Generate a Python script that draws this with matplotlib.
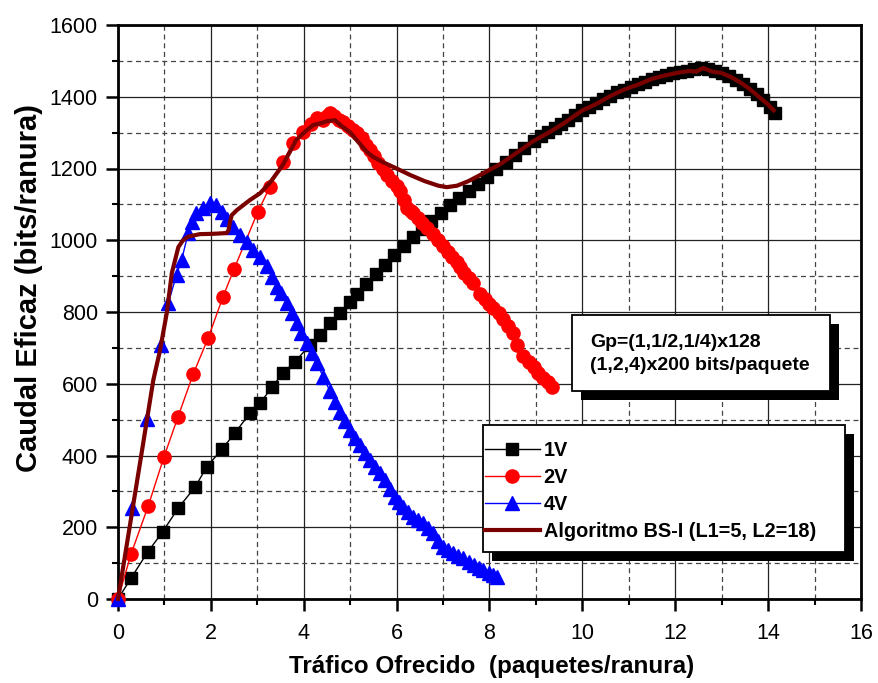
import matplotlib
matplotlib.use("Agg")
import matplotlib.pyplot as plt
from matplotlib.patches import Rectangle
from matplotlib.ticker import MultipleLocator
from matplotlib.transforms import IdentityTransform

plt.rcParams['font.family'] = ['Liberation Sans', 'DejaVu Sans']

# 1V
x_1v = [0, 0.28, 0.64, 0.96, 1.30, 1.66, 1.91, 2.24, 2.52, 2.84,
        3.06, 3.32, 3.55, 3.81, 4.13, 4.35, 4.57, 4.78, 5.00, 5.15,
        5.35, 5.55, 5.75, 5.95, 6.15, 6.35, 6.55, 6.75, 6.95, 7.15,
        7.35, 7.55, 7.75, 7.95, 8.15, 8.35, 8.55, 8.75, 8.95, 9.10,
        9.25, 9.40, 9.55, 9.70, 9.85, 10.00, 10.15, 10.30, 10.45, 10.60,
        10.75, 10.90, 11.05, 11.20, 11.35, 11.50, 11.65, 11.80, 11.95, 12.10,
        12.25, 12.40, 12.55, 12.70, 12.85, 13.00, 13.15, 13.30, 13.45, 13.60,
        13.75, 13.90, 14.05, 14.15]
y_1v = [0, 58, 131, 187, 254, 312, 368, 418, 463, 518,
        546, 591, 630, 661, 708, 736, 769, 797, 828, 850,
        878, 905, 932, 960, 985, 1008, 1032, 1055, 1077, 1098,
        1118, 1138, 1157, 1175, 1198, 1218, 1238, 1258, 1278, 1290,
        1302, 1313, 1323, 1336, 1349, 1362, 1372, 1382, 1393, 1403,
        1413, 1420, 1428, 1436, 1442, 1450, 1455, 1460, 1465, 1470,
        1472, 1476, 1481, 1478, 1472, 1465, 1458, 1447, 1436, 1422,
        1408, 1392, 1372, 1356]

# 2V
x_2v = [0, 0.28, 0.65, 0.99, 1.29, 1.62, 1.94, 2.26, 2.50, 3.01,
        3.27, 3.55, 3.77, 3.98, 4.15, 4.28, 4.42, 4.50, 4.57, 4.65,
        4.75, 4.85, 4.95, 5.05, 5.15, 5.25, 5.35, 5.43, 5.52, 5.60,
        5.70, 5.80, 5.90, 6.00, 6.07, 6.15, 6.22, 6.30, 6.36, 6.45,
        6.55, 6.65, 6.79, 6.90, 7.00, 7.10, 7.20, 7.30, 7.37, 7.45,
        7.55, 7.65, 7.80, 7.90, 8.00, 8.08, 8.20, 8.30, 8.40, 8.50,
        8.60, 8.72, 8.85, 8.95, 9.05, 9.15, 9.25, 9.35]
y_2v = [0, 125, 259, 396, 507, 627, 727, 842, 920, 1079,
        1148, 1218, 1271, 1302, 1325, 1341, 1336, 1345, 1355, 1345,
        1335, 1330, 1318, 1308, 1299, 1285, 1265, 1252, 1235, 1215,
        1200, 1182, 1165, 1150, 1138, 1112, 1090, 1082, 1076, 1062,
        1048, 1035, 1018, 1000, 985, 968, 952, 938, 925, 910,
        895, 880, 850, 836, 822, 812, 798, 780, 762, 742,
        708, 678, 662, 646, 630, 615, 604, 592]

# 4V
x_4v = [0, 0.30, 0.62, 0.93, 1.08, 1.26, 1.37, 1.51, 1.60, 1.69,
        1.84, 1.98, 2.12, 2.23, 2.35, 2.48, 2.63, 2.77, 2.91, 3.06,
        3.20, 3.31, 3.42, 3.52, 3.63, 3.74, 3.85, 3.95, 4.06, 4.17,
        4.28, 4.42, 4.56, 4.67, 4.78, 4.89, 5.00, 5.10, 5.21, 5.32,
        5.43, 5.53, 5.64, 5.75, 5.86, 5.96, 6.05, 6.14, 6.25, 6.36,
        6.47, 6.57, 6.68, 6.79, 6.90, 7.00, 7.11, 7.22, 7.33, 7.44,
        7.55, 7.66, 7.77, 7.87, 7.98, 8.08, 8.16]
y_4v = [0, 254, 502, 708, 824, 903, 945, 1019, 1050, 1075,
        1089, 1105, 1098, 1080, 1060, 1038, 1015, 996, 973, 954,
        927, 898, 870, 852, 824, 796, 768, 741, 713, 685,
        657, 620, 580, 548, 522, 497, 472, 450, 428, 408,
        387, 368, 350, 332, 308, 285, 270, 256, 242, 229,
        220, 211, 197, 183, 163, 145, 136, 127, 120, 114,
        104, 94, 87, 81, 72, 66, 61]

# Algoritmo BS-I
x_bs = [0, 0.25, 0.50, 0.76, 0.90, 1.05, 1.16, 1.30, 1.40, 1.51,
        1.76, 2.05, 2.34, 2.38, 2.41, 2.45, 2.56, 2.84, 3.06, 3.27,
        3.55, 3.84, 4.05, 4.20, 4.39, 4.50, 4.67, 4.80, 4.99, 5.20,
        5.36, 5.50, 5.70, 6.00, 6.29, 6.60, 6.90, 7.08, 7.30, 7.55,
        7.80, 8.00, 8.23, 8.50, 8.94, 9.30, 9.60, 10.00, 10.30, 10.60,
        10.90, 11.20, 11.50, 11.80, 12.10, 12.30, 12.45, 12.60, 12.80, 13.00,
        13.20, 13.40, 13.60, 13.80, 14.00, 14.12]
y_bs = [0, 200, 400, 610, 690, 797, 909, 981, 1000, 1010,
        1017, 1018, 1020, 1028, 1050, 1070, 1084, 1112, 1131, 1160,
        1210, 1280, 1305, 1321, 1327, 1332, 1335, 1320, 1302, 1270,
        1246, 1232, 1218, 1200, 1182, 1165, 1152, 1148, 1152, 1165,
        1182, 1196, 1212, 1236, 1276, 1302, 1326, 1362, 1380, 1402,
        1420, 1434, 1450, 1460, 1468, 1472, 1470, 1480, 1470, 1466,
        1455, 1440, 1422, 1400, 1378, 1362]

W, H = 879, 683
fig = plt.figure(figsize=(W / 100, H / 100), dpi=100)
ax = fig.add_axes([118 / W, 1 - 599 / H, (861 - 118) / W, (599 - 25) / H])

ax.plot(x_1v, y_1v, color='black', lw=1, marker='s', ms=8.5, mec='black', mfc='black',
        clip_on=False, zorder=3, label='1V')
ax.plot(x_2v, y_2v, color='red', lw=1, marker='o', ms=9.5, mec='red', mfc='red',
        clip_on=False, zorder=3, label='2V')
ax.plot(x_4v, y_4v, color='blue', lw=1, marker='^', ms=10, mec='blue', mfc='blue',
        clip_on=False, zorder=3, label='4V')
ax.plot(x_bs, y_bs, color='#7a0000', lw=3, solid_joinstyle='round', clip_on=False,
        zorder=4, label='Algoritmo BS-I (L1=5, L2=18)')

ax.set_xlim(0, 16)
ax.set_ylim(0, 1600)
ax.xaxis.set_major_locator(MultipleLocator(2))
ax.xaxis.set_minor_locator(MultipleLocator(1))
ax.yaxis.set_major_locator(MultipleLocator(200))
ax.yaxis.set_minor_locator(MultipleLocator(100))
ax.grid(which='major', color='#222222', lw=0.9, ls='-', zorder=0)
ax.grid(which='minor', color='#444444', lw=0.9, ls=(0, (4, 3)), zorder=0)
ax.set_axisbelow(True)
for s in ax.spines.values():
    s.set_linewidth(2)
ax.tick_params(which='major', direction='out', length=8.5, width=1.8, labelsize=15.5)
ax.tick_params(which='minor', direction='out', length=4, width=1.5)
ax.tick_params(axis='x', which='major', pad=9)
ax.tick_params(axis='y', which='major', pad=6)

ax.set_xlabel('Tráfico Ofrecido  (paquetes/ranura)', fontsize=17.5, fontweight='bold')
ax.xaxis.set_label_coords((492 - 118) / 743, (599 - 655) / 574)
ax.set_ylabel('Caudal Eficaz (bits/ranura)', fontsize=21, fontweight='bold')
ax.yaxis.set_label_coords((43 - 118) / 743, (599 - 288) / 574)

off = 9

# legend box drawn by hand, entries placed inside
lx0, ly0, lx1, ly1 = 483, H - 552, 845, H - 425
ax.add_patch(Rectangle((lx0 + off, ly0 - off), lx1 - lx0, ly1 - ly0, transform=IdentityTransform(),
                       facecolor='black', edgecolor='none', clip_on=False, zorder=8))
ax.add_patch(Rectangle((lx0, ly0), lx1 - lx0, ly1 - ly0, transform=IdentityTransform(),
                       facecolor='white', edgecolor='black', lw=1.3, clip_on=False, zorder=9))
leg = ax.legend(loc='upper left', bbox_to_anchor=(485 / W, 1 - 441 / H),
                bbox_transform=fig.transFigure, borderaxespad=0, borderpad=0,
                frameon=False, prop={'weight': 'bold', 'size': 14.3}, handlelength=2.75,
                handletextpad=0.2, labelspacing=0.4)
leg.set_zorder(10)

# annotation box
bx0, by0, bx1, by1 = 572, H - 391, 830, H - 315
ax.add_patch(Rectangle((bx0 + off, by0 - off), bx1 - bx0, by1 - by0, transform=IdentityTransform(),
                       facecolor='black', edgecolor='none', clip_on=False, zorder=8))
ax.add_patch(Rectangle((bx0, by0), bx1 - bx0, by1 - by0, transform=IdentityTransform(),
                       facecolor='white', edgecolor='black', lw=1.3, clip_on=False, zorder=9))
ax.text(590 / W, 1 - 354 / H, 'Gp=(1,1/2,1/4)x128\n(1,2,4)x200 bits/paquete',
        transform=fig.transFigure, fontsize=14, fontweight='bold', va='center', ha='left',
        linespacing=1.5, zorder=11)

fig.savefig('out.png', dpi=100)
